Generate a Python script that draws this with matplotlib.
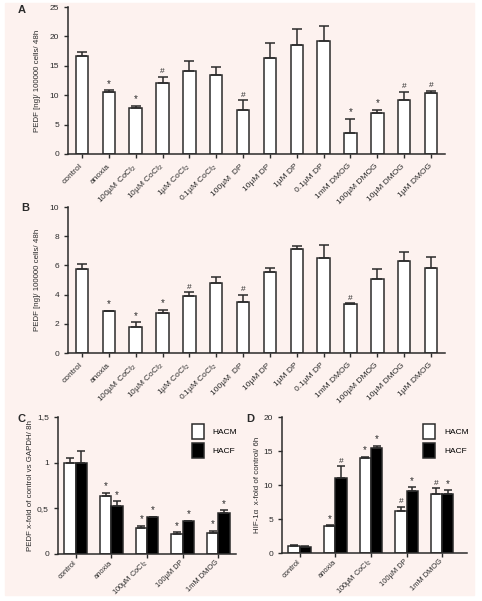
import matplotlib.pyplot as plt
import matplotlib.patches as mpatches
import numpy as np

plt.rcParams['font.family'] = ['Liberation Sans', 'DejaVu Sans']
plt.rcParams['mathtext.fontset'] = 'custom'
plt.rcParams['mathtext.rm'] = 'Liberation Sans'

# panels A and B: 14 treatments
labels_ab = ['control', 'anoxia', '100µM CoCl$_2$', '10µM CoCl$_2$', '1µM CoCl$_2$',
             '0.1µM CoCl$_2$', '100µM  DP', '10µM DP', '1µM DP', '0.1µM DP',
             '1mM DMOG', '100µM DMOG', '10µM DMOG', '1µM DMOG']
a_mean = [16.7, 10.5, 7.8, 12.0, 14.2, 13.5, 7.4, 16.3, 18.6, 19.3, 3.6, 7.0, 9.1, 10.3]
a_err = [0.7, 0.3, 0.4, 1.1, 1.6, 1.3, 1.7, 2.5, 2.7, 2.4, 2.3, 0.5, 1.5, 0.4]
a_sig = ['', '*', '*', '#', '', '', '#', '', '', '', '*', '*', '#', '#']
b_mean = [5.75, 2.85, 1.8, 2.75, 3.9, 4.8, 3.5, 5.55, 7.15, 6.5, 3.35, 5.1, 6.3, 5.8]
b_err = [0.35, 0.05, 0.3, 0.2, 0.25, 0.4, 0.5, 0.3, 0.15, 0.9, 0.05, 0.65, 0.6, 0.75]
b_sig = ['', '*', '*', '*', '#', '', '#', '', '', '', '#', '', '', '']

# panels C and D: 5 treatments, two cell types
labels_cd = ['control', 'anoxia', '100µM CoCl$_2$', '100µM DP', '1mM DMOG']
c_hacm = [1.0, 0.63, 0.28, 0.22, 0.23]
c_hacm_err = [0.05, 0.04, 0.03, 0.02, 0.025]
c_hacf = [1.0, 0.53, 0.40, 0.36, 0.45]
c_hacf_err = [0.13, 0.05, 0.01, 0.005, 0.03]
c_hacm_sig = ['', '*', '*', '*', '*']
c_hacf_sig = ['', '*', '*', '*', '*']
d_hacm = [1.0, 4.0, 14.0, 6.2, 8.7]
d_hacm_err = [0.2, 0.05, 0.15, 0.6, 0.8]
d_hacf = [0.9, 11.0, 15.5, 9.1, 8.7]
d_hacf_err = [0.15, 1.8, 0.3, 0.6, 0.5]
d_hacm_sig = ['', '*', '*', '#', '#']
d_hacf_sig = ['', '#', '*', '*', '*']

ink = '#2b2b2b'
fs = 6

fig = plt.figure(figsize=(4.82, 6.01), dpi=100, facecolor='white')
fig.patches.append(mpatches.Rectangle((5 / 482, 6 / 601), 469 / 482, 592 / 601,
                                      transform=fig.transFigure, color='#fdf2ef', zorder=-1))


def style(ax, xfs, xpad):
    ax.set_facecolor('none')
    for s in ['top', 'right']:
        ax.spines[s].set_visible(False)
    for s in ['left', 'bottom']:
        ax.spines[s].set_color(ink)
        ax.spines[s].set_linewidth(1.1)
    ax.tick_params(colors=ink, labelsize=fs, width=1.0, length=3, direction='out')
    ax.tick_params(axis='x', labelsize=xfs, pad=xpad)
    for t in ax.get_xticklabels():
        t.set_rotation(45)
        t.set_ha('right')
        t.set_va('center')
        t.set_rotation_mode('anchor')


def sig_marks(ax, x, tops, sig, off):
    for xi, t, s in zip(x, tops, sig):
        if s:
            ax.text(xi, t + off, s, ha='center', va='bottom', fontsize=fs + 1 if s == '*' else fs,
                    color=ink)


def single(ax, mean, err, sig, ymax, step, ylabel, off):
    x = np.arange(len(mean))
    ax.bar(x, mean, width=0.46, color='white', edgecolor=ink, linewidth=1.1)
    ax.errorbar(x, mean, yerr=[np.zeros(len(err)), err], fmt='none', ecolor=ink,
                elinewidth=1.1, capsize=3.5, capthick=1.1)
    sig_marks(ax, x, np.array(mean) + np.array(err), sig, off)
    ax.set_xlim(-0.52, len(mean) - 0.48)
    ax.set_ylim(0, ymax)
    ax.set_yticks(np.arange(0, ymax + 0.1, step))
    ax.set_xticks(x)
    ax.set_xticklabels(labels_ab)
    ax.set_ylabel(ylabel, fontsize=5.7, color=ink, labelpad=6)
    style(ax, fs, 5)


def grouped(ax, m1, e1, m2, e2, s1, s2, ymax, ticks, ticklabels, ylabel, off, right):
    x = np.arange(len(m1))
    w = 0.32
    ax.bar(x - w / 2, m1, width=w, color='white', edgecolor=ink, linewidth=1.1, label='HACM')
    ax.bar(x + w / 2, m2, width=w, color='black', edgecolor=ink, linewidth=1.1, label='HACF')
    ax.errorbar(x - w / 2, m1, yerr=[np.zeros(len(e1)), e1], fmt='none', ecolor=ink,
                elinewidth=1.1, capsize=2.8, capthick=1.1)
    ax.errorbar(x + w / 2, m2, yerr=[np.zeros(len(e2)), e2], fmt='none', ecolor=ink,
                elinewidth=1.1, capsize=2.8, capthick=1.1)
    sig_marks(ax, x - w / 2, np.array(m1) + np.array(e1), s1, off)
    sig_marks(ax, x + w / 2, np.array(m2) + np.array(e2), s2, off)
    ax.set_xlim(-0.5, len(m1) - 1 + right)
    ax.set_ylim(0, ymax)
    ax.set_yticks(ticks)
    ax.set_yticklabels(ticklabels)
    ax.set_xticks(x)
    ax.set_xticklabels(labels_cd)
    ax.set_ylabel(ylabel, fontsize=5.7, color=ink, labelpad=2)
    style(ax, 5.4, 2.5)
    ax.legend(loc='upper right', bbox_to_anchor=(1.05, 1.0), frameon=False, fontsize=fs,
              handlelength=1.4, handleheight=2.3, labelspacing=0.5, handletextpad=1.1)


axA = fig.add_axes([68 / 482, 1 - 154 / 601, 377 / 482, 147 / 601])
single(axA, a_mean, a_err, a_sig, 25, 5, 'PEDF [ng]/ 100000 cells/ 48h', 0.3)

axB = fig.add_axes([68 / 482, 1 - 353 / 601, 377 / 482, 146 / 601])
single(axB, b_mean, b_err, b_sig, 10, 2, 'PEDF [ng]/ 100000 cells/ 48h', 0.12)

axC = fig.add_axes([58 / 482, 1 - 554 / 601, 178 / 482, 137 / 601])
grouped(axC, c_hacm, c_hacm_err, c_hacf, c_hacf_err, c_hacm_sig, c_hacf_sig, 1.5,
        [0, 0.5, 1, 1.5], ['0', '0,5', '1', '1,5'],
        'PEDF x-fold of control vs GAPDH/ 8h', 0.015, 0.5)

axD = fig.add_axes([282 / 482, 1 - 553 / 601, 185 / 482, 136 / 601])
grouped(axD, d_hacm, d_hacm_err, d_hacf, d_hacf_err, d_hacm_sig, d_hacf_sig, 20,
        [0, 5, 10, 15, 20], ['0', '5', '10', '15', '20'],
        'HIF-1α  x-fold of control/ 6h', 0.2, 0.7)

for lbl, px, py in [('A', 22, 10), ('B', 25, 208), ('C', 22, 419), ('D', 250, 419)]:
    fig.text(px / 482, 1 - py / 601, lbl, fontsize=8, fontweight='bold', color=ink,
             ha='center', va='center')

fig.savefig('out.png', dpi=100, facecolor=fig.get_facecolor())
